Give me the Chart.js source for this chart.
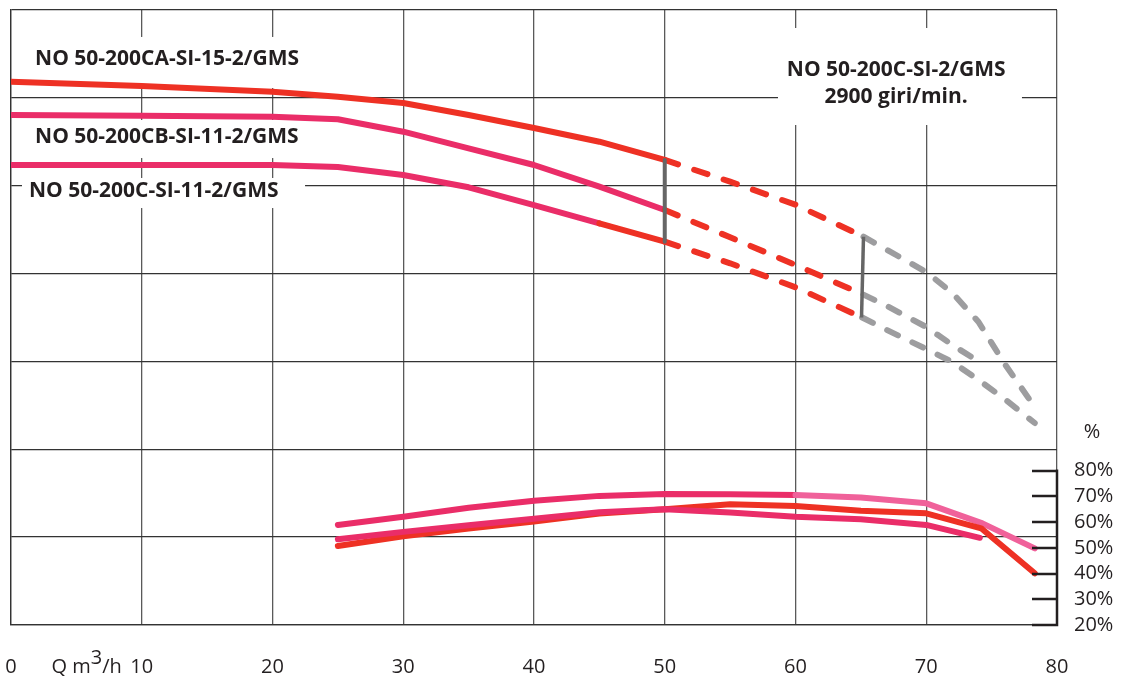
<!DOCTYPE html>
<html><head><meta charset="utf-8">
<script src="https://cdn.jsdelivr.net/npm/chart.js@4.4.1/dist/chart.umd.min.js"></script>
<style>html,body{margin:0;padding:0;background:#fff}#wrap{width:1129px;height:680px;position:relative}</style>
</head><body><div id="wrap"><canvas id="c"></canvas></div>
<script>
// ---- axis ticks ----
const flowTicks = [0,10,20,30,40,50,60,70,80];
const effTicks = [20,30,40,50,60,70,80];

// ---- head curves (in grid units, 0..7) ----
const caQ = [0,10,20,25,30,35,40,45,50,55,60,65.2,68,70,72,74,76,78.3];
const caH = [6.184,6.135,6.070,6.013,5.941,5.805,5.657,5.501,5.293,5.046,4.784,4.420,4.186,4.018,3.779,3.449,2.971,2.481];
const cbQ = [0,10,20,25,30,35,40,45,50,55,60,65.2,67,70,72,74];
const cbH = [5.805,5.797,5.786,5.756,5.615,5.426,5.236,4.989,4.724,4.413,4.098,3.760,3.631,3.392,3.187,3.000];
const cQ  = [0,10,20,25,30,35,40,45,50,55,60,65.1,67,70,72,74,76,78.3];
const cH  = [5.236,5.236,5.236,5.213,5.122,4.982,4.780,4.572,4.363,4.117,3.844,3.500,3.357,3.141,2.993,2.789,2.572,2.299];

// ---- limit lines ----
const link1Q = [50,50];      const link1H = [5.293,4.363];
const link2Q = [65.2,65.05]; const link2H = [4.420,3.500];

// ---- efficiency curves (%) ----
const effAQ = [25,30,35,40,45,50,55,60,65,70,74.3,78.3];
const effA  = [58.9,62.1,65.6,68.3,70.2,70.9,70.8,70.5,69.6,67.3,59.5,49.8];
const effBQ = [25,30,35,40,45,50,55,60,65,70,74.1];
const effB  = [53.3,56.2,58.8,61.3,63.8,65.0,63.7,62.1,61.1,58.9,53.9];
const effCQ = [25,30,35,40,45,50,55,60,65,70,74.2,78.3];
const effC  = [50.7,54.5,57.5,60.2,63.3,65.0,66.9,66.3,64.4,63.4,57.6,40.1];

// ---- texts ----
const curveLabels = ['NO 50-200CA-SI-15-2/GMS','NO 50-200CB-SI-11-2/GMS','NO 50-200C-SI-11-2/GMS'];
const titleLines = ['NO 50-200C-SI-2/GMS','2900 giri/min.'];

const RED = '#ee3124', PINK = '#ea2d68', LPINK = '#f0619a', GRAY = '#9d9d9f', LINK = '#666666', TXT = '#231f20';
const FONT = '"Open Sans", "Noto Sans", sans-serif';

const pts = (q, v) => q.map((x, i) => ({x, y: v[i]}));

function headSeg(solidColor) {
  return {
    borderColor: c => c.p0.parsed.x >= 65 ? GRAY : (c.p0.parsed.x >= 50 ? RED : solidColor(c.p0.parsed.x)),
    borderDash: c => c.p0.parsed.x >= 65 ? [12,16] : (c.p0.parsed.x >= 50 ? [14,17] : [])
  };
}
const base = {pointRadius:0, borderWidth:6, borderCapStyle:'round', borderJoinStyle:'round', tension:0, fill:false};

const datasets = [
  Object.assign({}, base, {data: pts(effBQ, effB), yAxisID:'y1', borderColor:PINK}),
  Object.assign({}, base, {data: pts(effCQ, effC), yAxisID:'y1', borderColor:RED}),
  Object.assign({}, base, {data: pts(effAQ, effA), yAxisID:'y1', borderColor:PINK,
    segment:{borderColor: c => c.p0.parsed.x >= 60 ? LPINK : PINK}}),
  Object.assign({}, base, {data: pts(link1Q, link1H), yAxisID:'y', borderColor:LINK, borderWidth:4, borderCapStyle:'butt'}),
  Object.assign({}, base, {data: pts(link2Q, link2H), yAxisID:'y', borderColor:LINK, borderWidth:3.5, borderCapStyle:'butt'}),
  Object.assign({}, base, {data: pts(cQ, cH), yAxisID:'y', borderColor:PINK, segment: headSeg(x => x >= 45 ? RED : PINK)}),
  Object.assign({}, base, {data: pts(cbQ, cbH), yAxisID:'y', borderColor:PINK, segment: headSeg(() => PINK)}),
  Object.assign({}, base, {data: pts(caQ, caH), yAxisID:'y', borderColor:RED, segment: headSeg(() => RED)})
];

// white label boxes in data coordinates [x0,x1,yTop,yBottom]
const boxes = [[58.66,77.32,6.795,5.691],[1.45,22.49,6.693,6.112],[1.45,22.49,5.748,5.315],[0.84,22.49,5.088,4.746]];
const labelPos = [[1.84,6.44],[1.84,5.554],[1.38,4.94]];
const titlePos = [67.7, 6.317, 6.01];

const decor = {
  id:'decor',
  beforeDatasetsDraw(chart) {
    const {ctx, scales:{x, y}} = chart;
    ctx.save();
    ctx.fillStyle = '#fff';
    boxes.forEach(b => {
      const x0 = x.getPixelForValue(b[0]), x1 = x.getPixelForValue(b[1]);
      const y0 = y.getPixelForValue(b[2]), y1 = y.getPixelForValue(b[3]);
      ctx.fillRect(x0, y0, x1 - x0, y1 - y0);
    });
    ctx.fillStyle = TXT;
    ctx.font = 'bold 21px ' + FONT;
    ctx.textBaseline = 'middle';
    ctx.textAlign = 'left';
    curveLabels.forEach((t, i) => ctx.fillText(t, x.getPixelForValue(labelPos[i][0]), y.getPixelForValue(labelPos[i][1])));
    ctx.textAlign = 'center';
    ctx.fillText(titleLines[0], x.getPixelForValue(titlePos[0]), y.getPixelForValue(titlePos[1]));
    ctx.fillText(titleLines[1], x.getPixelForValue(titlePos[0]), y.getPixelForValue(titlePos[2]));
    ctx.restore();
  },
  afterDraw(chart) {
    const {ctx, scales:{x, y1}, chartArea:ca} = chart;
    ctx.save();
    ctx.strokeStyle = '#231f20';
    ctx.lineWidth = 2.5;
    ctx.beginPath();
    effTicks.forEach(v => {
      const py = Math.round(y1.getPixelForValue(v));
      ctx.moveTo(ca.right - 25, py); ctx.lineTo(ca.right, py);
    });
    ctx.moveTo(ca.right, y1.getPixelForValue(effTicks[effTicks.length-1]) - 1.2);
    ctx.lineTo(ca.right, y1.getPixelForValue(effTicks[0]) + 1.2);
    ctx.stroke();
    ctx.fillStyle = TXT;
    ctx.font = '20px ' + FONT;
    ctx.textBaseline = 'middle';
    ctx.textAlign = 'center';
    ctx.fillText('%', ca.right + 35, y1.getPixelForValue(95));
    // Q m3/h
    ctx.textAlign = 'left';
    ctx.textBaseline = 'alphabetic';
    const bx = x.getPixelForValue(3.1), by = ca.bottom + 48;
    ctx.fillText('Q m', bx, by);
    let w = ctx.measureText('Q m').width;
    ctx.fillText('3', bx + w, by - 9);
    w += ctx.measureText('3').width;
    ctx.fillText('/h', bx + w, by);
    ctx.restore();
  }
};

new Chart(document.getElementById('c'), {
  type:'line',
  data:{datasets},
  plugins:[decor],
  options:{
    responsive:true, maintainAspectRatio:false, animation:false, devicePixelRatio:1,
    layout:{padding:{left:11, top:10, right:0, bottom:0}},
    plugins:{legend:{display:false}, tooltip:{enabled:false}},
    scales:{
      x:{type:'linear', min:0, max:80,
        afterBuildTicks: s => { s.ticks = flowTicks.map(v => ({value:v})); },
        afterFit: s => { s.height = 55; },
        ticks:{color:TXT, font:{family:FONT, size:20}, padding:0, maxRotation:0},
        grid:{color:'#5a5a5a', lineWidth:1.3, drawTicks:true, tickLength:30, tickColor:'rgba(0,0,0,0)'},
        border:{display:true, color:'#333', width:1.3}},
      y:{type:'linear', position:'left', min:0, max:7,
        ticks:{display:false, stepSize:1},
        afterFit: s => { s.width = 0; },
        grid:{color:'#333', lineWidth:1.3, drawTicks:false},
        border:{display:true, color:'#333', width:1.3}},
      y1:{type:'linear', position:'right', min:20, max:259.1,
        afterBuildTicks: s => { s.ticks = effTicks.map(v => ({value:v})); },
        afterFit: s => { s.width = 72; },
        ticks:{color:TXT, font:{family:FONT, size:20, lineHeight:0.9}, padding:0, callback: v => v + '%'},
        grid:{drawOnChartArea:false, drawTicks:true, tickLength:17, tickColor:'rgba(0,0,0,0)'},
        border:{display:false}}
    }
  }
});
</script></body></html>
